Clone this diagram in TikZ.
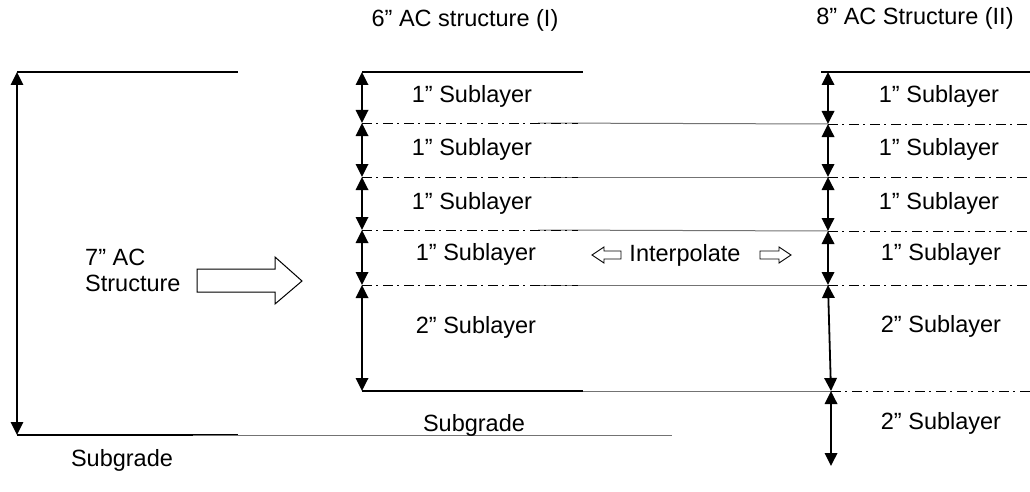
\documentclass[tikz,border=0pt]{standalone}
\usepackage{fontspec}
\setmainfont{Liberation Sans}
\usetikzlibrary{arrows.meta}

\begin{document}
\begin{tikzpicture}[x=1pt,y=-1pt,
  dim/.style={line width=1.8pt,
    {Triangle[width=12.5pt,length=13pt]}-{Triangle[width=12.5pt,length=13pt]}},
  solidline/.style={line width=1.3pt},
  dashdotline/.style={line width=0.9pt, dash pattern=on 10pt off 4pt on 2pt off 5pt},
  greyline/.style={line width=1pt, black!55},
  lbl/.style={font=\fontsize{23.5}{28}\selectfont, inner sep=0pt},
  blockarrow/.style={draw, line width=1pt, fill=white, line join=miter}]
\useasboundingbox (0,0) rectangle (1030,492);

% ---- titles
\node[lbl] (t1) at (465,20) {6” AC structure (I)};
\node[lbl] (t2) at (915,18) {8” AC Structure (II)};

% ---- 7" structure (left)
\coordinate (a0) at (17,72);
\coordinate (a1) at (17,435);
\coordinate (a0e) at (238,72);
\coordinate (a1e) at (238,435);
\coordinate (g0s) at (193,435);
\coordinate (g0e) at (672,435);
\draw[solidline] (a0) -- (a0e);
\draw[solidline] (a1) -- (a1e);
\draw[greyline] (g0s) -- (g0e);
\draw[dim] (a0) -- (a1);
\node[lbl, anchor=west] (s7a) at (85,257) {7” AC};
\node[lbl, anchor=west] (s7b) at (85,283) {Structure};
\node[lbl] (sg1) at (122,460) {Subgrade};
\draw[blockarrow] (197,269) -- (275,269) -- (275,257) -- (302,281)
  -- (275,304) -- (275,292) -- (197,292) -- cycle;

% ---- 6" structure (centre)
\coordinate (c0) at (362,72);
\coordinate (c1) at (362,123);
\coordinate (c2) at (362,177);
\coordinate (c3) at (362,230);
\coordinate (c4) at (362,285);
\coordinate (c5) at (362,391);
\coordinate (c0e) at (583,72);
\coordinate (c5e) at (583,391);
\coordinate (c1e) at (578,123);
\coordinate (c2e) at (578,177);
\coordinate (c3e) at (578,230);
\coordinate (c4e) at (578,285);

% ---- 8" structure (right)
\coordinate (r0) at (828,72);
\coordinate (r1) at (828,124);
\coordinate (r2) at (828,177);
\coordinate (r3) at (828,231);
\coordinate (r4) at (828,285);
\coordinate (r5) at (831,391);
\coordinate (r6) at (831,466);
\coordinate (r0s) at (821,72);
\coordinate (r0e) at (1030,72);
\coordinate (r1e) at (1030,124);
\coordinate (r2e) at (1030,177);
\coordinate (r3e) at (1030,231);
\coordinate (r4e) at (1030,285);
\coordinate (r5e) at (1030,391);

% grey connecting lines between the two structures
\coordinate (g1) at (538,123);
\coordinate (g2) at (538,177);
\coordinate (g3) at (538,230);
\coordinate (g4) at (538,285);
\coordinate (g5) at (557,391);
\foreach \k in {1,...,5} \draw[greyline] (g\k) -- (r\k);

% boundary lines
\draw[solidline] (c0) -- (c0e);
\draw[solidline] (c5) -- (c5e);
\foreach \k in {1,...,4} \draw[dashdotline] (c\k) -- (c\k e);
\draw[solidline] (r0s) -- (r0e);
\foreach \k in {1,...,5} \draw[dashdotline] (r\k) -- (r\k e);

% thickness arrows
\draw[dim] (c0) -- (c1);
\draw[dim] (c1) -- (c2);
\draw[dim] (c2) -- (c3);
\draw[dim] (c3) -- (c4);
\draw[dim] (c4) -- (c5);
\draw[dim] (r0) -- (r1);
\draw[dim] (r1) -- (r2);
\draw[dim] (r2) -- (r3);
\draw[dim] (r3) -- (r4);
\draw[dim] (r4) -- (r5);
\draw[dim] (r5) -- (r6);

% sublayer labels
\node[lbl] (l1) at (472,96) {1” Sublayer};
\node[lbl] (l2) at (472,149) {1” Sublayer};
\node[lbl] (l3) at (472,203) {1” Sublayer};
\node[lbl] (l4) at (476,254) {1” Sublayer};
\node[lbl] (l5) at (476,327) {2” Sublayer};
\node[lbl] (sg2) at (474,425) {Subgrade};

\node[lbl] (m1) at (939,96) {1” Sublayer};
\node[lbl] (m2) at (939,149) {1” Sublayer};
\node[lbl] (m3) at (939,203) {1” Sublayer};
\node[lbl] (m4) at (941,254) {1” Sublayer};
\node[lbl] (m5) at (941,326) {2” Sublayer};
\node[lbl] (m6) at (941,423) {2” Sublayer};

% interpolation
\node[lbl] (ip) at (685,255) {Interpolate};
\draw[blockarrow, line width=0.9pt] (592,255) -- (604,247) -- (604,251) -- (621,251)
  -- (621,259) -- (604,259) -- (604,263) -- cycle;
\draw[blockarrow, line width=0.9pt] (791,255) -- (779,247) -- (779,251) -- (760,251)
  -- (760,259) -- (779,259) -- (779,263) -- cycle;
\end{tikzpicture}
\end{document}
